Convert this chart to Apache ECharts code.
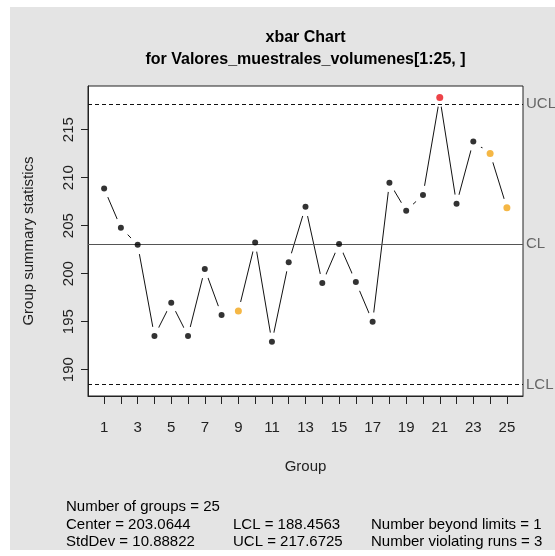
<!DOCTYPE html>
<html><head><meta charset="utf-8">
<script src="https://cdn.jsdelivr.net/npm/echarts@6/dist/echarts.min.js"></script>
<style>html,body{margin:0;padding:0;background:#fff}#c{width:555px;height:556px}</style>
</head><body><div id="c"></div>
<script>
// ---- data ----
const groups = [1,2,3,4,5,6,7,8,9,10,11,12,13,14,15,16,17,18,19,20,21,22,23,24,25];
const groupMeans = [208.86, 204.79, 203.0, 193.52, 196.97, 193.52, 200.48, 195.7, 196.1, 203.24,
                    192.9, 201.2, 206.97, 199.03, 203.1, 199.13, 195.0, 209.48, 206.56, 208.2,
                    218.35, 207.28, 213.76, 212.51, 206.87];
const beyondLimitGroups = [21];
const violatingRunGroups = [9, 24, 25];
const centerValue = 203.0644;
const lclValue = 188.4563;
const uclValue = 217.6725;
const stdDevValue = 10.88822;
const xTickValues = [1,2,3,4,5,6,7,8,9,10,11,12,13,14,15,16,17,18,19,20,21,22,23,24,25];
const xTickLabels = [1,3,5,7,9,11,13,15,17,19,21,23,25];
const yTickLabels = [190,195,200,205,210,215];
const titleLines = ['xbar Chart', 'for Valores_muestrales_volumenes[1:25, ]'];

// ---- scales (R style 4% padding) ----
const lo = Math.min(lclValue, ...groupMeans), hi = Math.max(uclValue, ...groupMeans);
const yPad = (hi - lo) * 0.04;
const xPad = (groups[groups.length-1] - groups[0]) * 0.04;

const FONT = '"Liberation Sans", Arial, sans-serif';
const pts = groups.map((g, i) => [g, groupMeans[i]]);
const dotData = groups.map((g, i) => {
  let c = '#000';
  if (beyondLimitGroups.includes(g)) c = '#e8141a';
  else if (violatingRunGroups.includes(g)) c = '#f2a516';
  return { value: [g, groupMeans[i]], itemStyle: { color: c }, symbolSize: c === '#000' ? 6 : 7 };
});

const chart = echarts.init(document.getElementById('c'), null, { renderer: 'canvas' });
chart.setOption({
  animation: false,
  backgroundColor: '#ffffff',
  textStyle: { fontFamily: FONT },
  graphic: [
    { type: 'rect', z: -10, silent: true, shape: { x: 10, y: 7, width: 545, height: 543 }, style: { fill: '#e4e4e4' } },
    { type: 'text', x: 305.5, y: 38, style: { text: titleLines[0], font: 'bold 16px ' + FONT, align: 'center', verticalAlign: 'middle', fill: '#000' } },
    { type: 'text', x: 305.5, y: 60, style: { text: titleLines[1], font: 'bold 16px ' + FONT, align: 'center', verticalAlign: 'middle', fill: '#000' } },
    { type: 'text', x: 66, y: 507, style: { text: 'Number of groups = ' + groups.length, font: '15px ' + FONT, align: 'left', verticalAlign: 'middle', fill: '#000' } },
    { type: 'text', x: 66, y: 524.5, style: { text: 'Center = ' + centerValue, font: '15px ' + FONT, align: 'left', verticalAlign: 'middle', fill: '#000' } },
    { type: 'text', x: 66, y: 542, style: { text: 'StdDev = ' + stdDevValue, font: '15px ' + FONT, align: 'left', verticalAlign: 'middle', fill: '#000' } },
    { type: 'text', x: 233, y: 524.5, style: { text: 'LCL = ' + lclValue, font: '15px ' + FONT, align: 'left', verticalAlign: 'middle', fill: '#000' } },
    { type: 'text', x: 233, y: 542, style: { text: 'UCL = ' + uclValue, font: '15px ' + FONT, align: 'left', verticalAlign: 'middle', fill: '#000' } },
    { type: 'text', x: 371, y: 524.5, style: { text: 'Number beyond limits = ' + beyondLimitGroups.length, font: '15px ' + FONT, align: 'left', verticalAlign: 'middle', fill: '#000' } },
    { type: 'text', x: 371, y: 542, style: { text: 'Number violating runs = ' + violatingRunGroups.length, font: '15px ' + FONT, align: 'left', verticalAlign: 'middle', fill: '#000' } }
  ],
  grid: { left: 88, top: 86, width: 435, height: 310, show: true, backgroundColor: '#ffffff', borderColor: '#222', borderWidth: 1 },
  xAxis: {
    type: 'value', min: groups[0] - xPad, max: groups[groups.length-1] + xPad,
    name: 'Group', nameLocation: 'middle', nameGap: 63,
    nameTextStyle: { fontSize: 15, color: '#222', fontFamily: FONT },
    axisLine: { show: true, lineStyle: { color: '#222', width: 1 } },
    axisTick: { show: true, inside: false, length: 8, customValues: xTickValues, lineStyle: { color: '#222', width: 1 } },
    axisLabel: { show: true, customValues: xTickLabels, margin: 24, fontSize: 15, color: '#222', fontFamily: FONT },
    splitLine: { show: false }
  },
  yAxis: {
    type: 'value', min: lo - yPad, max: hi + yPad,
    name: 'Group summary statistics', nameLocation: 'middle', nameGap: 52,
    nameTextStyle: { fontSize: 15, color: '#222', fontFamily: FONT },
    axisLine: { show: true, lineStyle: { color: '#222', width: 1 } },
    axisTick: { show: true, inside: false, length: 7, customValues: yTickLabels, lineStyle: { color: '#222', width: 1 } },
    axisLabel: { show: true, customValues: yTickLabels, rotate: 90, margin: 12, fontSize: 15, color: '#222', fontFamily: FONT },
    splitLine: { show: false }
  },
  series: [
    { type: 'line', data: pts, showSymbol: true, showAllSymbol: true, symbol: 'circle', symbolSize: 19,
      z: 2, silent: true, lineStyle: { color: '#111', width: 1 },
      itemStyle: { color: '#ffffff', borderWidth: 0, opacity: 1 } },
    { type: 'line', data: [], z: 4, silent: true,
      markLine: {
        silent: true, symbol: ['none', 'none'],
        label: { show: true, position: 'end', distance: 3, formatter: p => p.name, color: '#666', fontSize: 15, fontFamily: FONT },
        data: [
          { name: 'UCL', yAxis: uclValue, lineStyle: { color: '#111', width: 1, type: [4, 3] } },
          { name: 'CL', yAxis: centerValue, lineStyle: { color: '#555', width: 1, type: 'solid' } },
          { name: 'LCL', yAxis: lclValue, lineStyle: { color: '#111', width: 1, type: [4, 3] } }
        ]
      }
    },
    { type: 'scatter', data: dotData, symbol: 'circle', z: 5, silent: true }
  ]
});
</script></body></html>
